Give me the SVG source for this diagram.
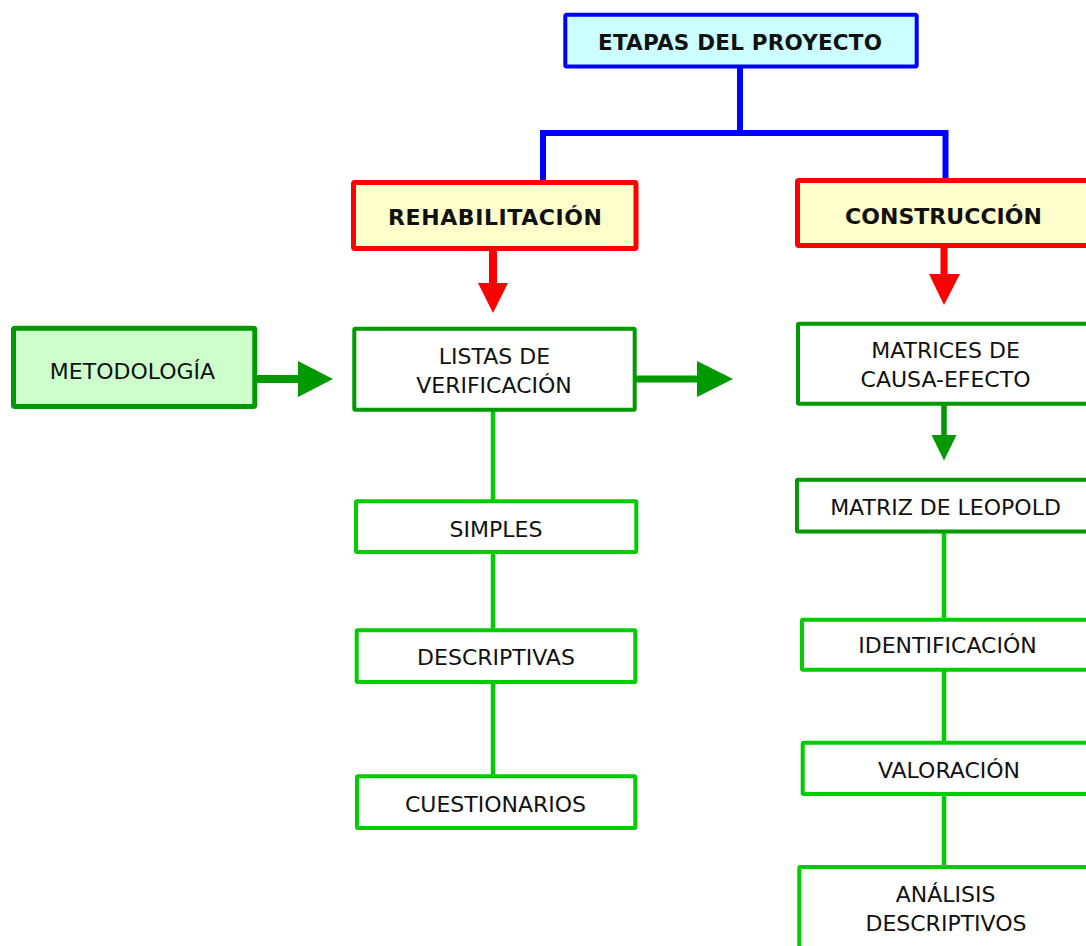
<svg xmlns="http://www.w3.org/2000/svg" width="1086" height="946" viewBox="0 0 1086 946">
<defs>
<style>
text{font-family:"DejaVu Sans","Liberation Sans",sans-serif;fill:#111;text-anchor:middle}
.n{font-size:22px}
.b{font-size:21.5px;font-weight:bold}
.b2{font-size:22px;font-weight:bold}
.dk{fill:#fff;stroke:#009900;stroke-width:4}
.lt{fill:#fff;stroke:#00CC00;stroke-width:4}
.red{fill:#FFFFCC;stroke:#FF0000;stroke-width:5}
.ln{stroke:#00CC00;stroke-width:4.5;fill:none}
</style>
</defs>
<rect width="1086" height="946" fill="#fff"/>
<g id="connectors">
<path d="M740 68V133M543 133H948.5M543 130V182M945.5 130V180" stroke="#0000FF" stroke-width="6" fill="none"/>
<path d="M493 251V284" stroke="#FF0000" stroke-width="8"/>
<polygon points="478,283 508,283 493,313" fill="#FF0000"/>
<path d="M944 248V275" stroke="#FF0000" stroke-width="7"/>
<polygon points="929,274 960,274 944,305" fill="#FF0000"/>
<path d="M257 379H299" stroke="#009900" stroke-width="8"/>
<polygon points="298,361 298,397 333,379" fill="#009900"/>
<path d="M636 379H698" stroke="#009900" stroke-width="7"/>
<polygon points="697,361 697,397 733,379" fill="#009900"/>
<path d="M944 405V436" stroke="#009900" stroke-width="5.5"/>
<polygon points="931.5,435 956.5,435 944,460.5" fill="#009900"/>
<path class="ln" d="M493 411V500M493 553V630M493 683V776M944 532V619M944 671V742M944 795V866"/>
</g>
<g id="etapas">
<rect x="565.3" y="14.7" width="351.4" height="51.7" rx="1.5" fill="#CCFFFF" stroke="#0000FF" stroke-width="4"/>
<text class="b" x="740" y="50" textLength="284" lengthAdjust="spacing">ETAPAS DEL PROYECTO</text>
</g>
<g id="rehabilitacion">
<rect class="red" x="353.5" y="182.5" width="282.5" height="66" rx="1.5"/>
<text class="b2" x="495" y="225" textLength="214" lengthAdjust="spacing">REHABILITACIÓN</text>
</g>
<g id="construccion">
<rect class="red" x="797.5" y="180.5" width="310" height="65" rx="1.5"/>
<text class="b2" x="943.5" y="224" textLength="197" lengthAdjust="spacing">CONSTRUCCIÓN</text>
</g>
<g id="metodologia">
<rect x="13.5" y="328.2" width="241.3" height="78.3" rx="1.5" fill="#CCFFCC" stroke="#009900" stroke-width="5"/>
<text class="n" x="132.5" y="379">METODOLOGÍA</text>
</g>
<g id="listas">
<rect class="dk" x="354.3" y="328.7" width="280.4" height="81" rx="1"/>
<text class="n" x="494.5" y="364">LISTAS DE</text>
<text class="n" x="494" y="393">VERIFICACIÓN</text>
</g>
<g id="simples">
<rect class="lt" x="356" y="501.3" width="280.3" height="50.7" rx="1"/>
<text class="n" x="496" y="537">SIMPLES</text>
</g>
<g id="descriptivas">
<rect class="lt" x="356.7" y="630.3" width="278.6" height="51.7" rx="1"/>
<text class="n" x="496" y="665">DESCRIPTIVAS</text>
</g>
<g id="cuestionarios">
<rect class="lt" x="357" y="776.3" width="278.3" height="51.7" rx="1"/>
<text class="n" x="495.5" y="812">CUESTIONARIOS</text>
</g>
<g id="matrices">
<rect class="dk" x="798" y="323.7" width="310" height="80" rx="1"/>
<text class="n" x="945.5" y="358">MATRICES DE</text>
<text class="n" x="945.5" y="387">CAUSA-EFECTO</text>
</g>
<g id="leopold">
<rect class="dk" x="797" y="479.7" width="310" height="51.7" rx="1"/>
<text class="n" x="945.5" y="515">MATRIZ DE LEOPOLD</text>
</g>
<g id="identificacion">
<rect class="lt" x="802" y="619.7" width="310" height="50" rx="1"/>
<text class="n" x="947.5" y="653">IDENTIFICACIÓN</text>
</g>
<g id="valoracion">
<rect class="lt" x="802.7" y="742.7" width="310" height="51.3" rx="1"/>
<text class="n" x="949" y="778">VALORACIÓN</text>
</g>
<g id="analisis">
<rect class="lt" x="799.3" y="867" width="310" height="100" rx="1"/>
<text class="n" x="945.5" y="902">ANÁLISIS</text>
<text class="n" x="946" y="931">DESCRIPTIVOS</text>
</g>
</svg>
